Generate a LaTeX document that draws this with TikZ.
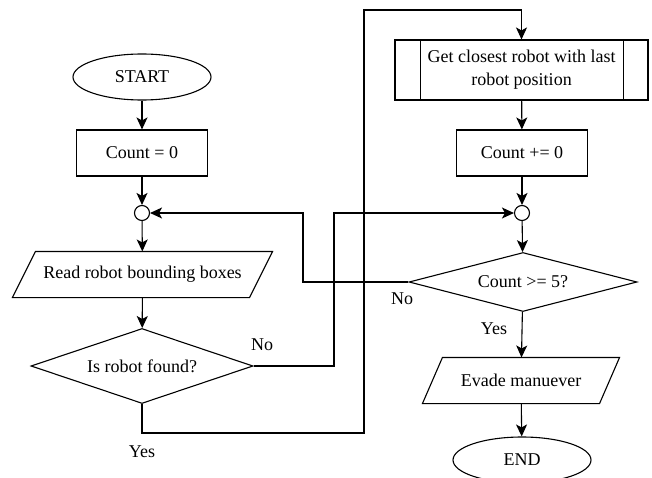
\documentclass[tikz,border=0pt]{standalone}
\usepackage{fontspec}
\setmainfont{Liberation Serif}
\usetikzlibrary{shapes.geometric,arrows.meta,calc}

\begin{document}
\begin{tikzpicture}[x=1pt,y=-1pt,
  line width=1.1pt,
  every node/.style={font=\fontsize{18}{23}\selectfont, inner sep=0pt},
  term/.style={ellipse, draw, minimum width=138pt, minimum height=46pt},
  proc/.style={rectangle, draw, minimum width=131pt, minimum height=46pt},
  sub/.style={rectangle, draw, minimum width=253pt, minimum height=60pt, align=center},
  io/.style={rectangle, minimum width=#1, minimum height=45pt},
  dec/.style={diamond, draw, aspect=4, minimum width=#1},
  junc/.style={circle, draw, minimum size=15pt},
  lbl/.style={anchor=base},
  arr/.style={-{Stealth[length=12pt,width=11pt,inset=3pt]}}
]
\useasboundingbox[fill=white] (0,0) rectangle (652,478);

% left column
\node[term] (start) at (142,77) {START};
\node[proc] (c0) at (142,153) {Count = 0};
\node[junc] (j1) at (142,213) {};
\node[io=236pt] (read) at (142.5,274.5) {Read robot bounding boxes};
\node[dec=222pt, minimum height=75pt] (found) at (142,366) {Is robot found?};

% right column
\node[sub] (get) at (521.5,70) {Get closest robot with last\\robot position};
\node[proc] (cpl) at (522,153) {Count += 0};
\node[junc] (j2) at (522,213) {};
\node[dec=228pt, minimum height=59pt] (c5) at (523,282) {Count >= 5?};
\node[io=176pt] (evade) at (521,380.5) {Evade manuever};
\node[term] (end) at (522,460) {END};

% parallelogram outlines
\foreach \n/\s in {read/11.5pt, evade/10pt}{
  \draw ([xshift=\s]\n.north west) -- ([xshift=\s]\n.north east)
     -- ([xshift=-\s]\n.south east) -- ([xshift=-\s]\n.south west) -- cycle;
}
% side bars of the subroutine box
\draw ([xshift=26pt]get.north west) -- ([xshift=26pt]get.south west);
\draw ([xshift=-25pt]get.north east) -- ([xshift=-25pt]get.south east);

% bend points of the long connectors
\coordinate (nobend) at (334,366);
\coordinate (yesbend) at (364,433);
\coordinate (yestop) at (364,10);
\coordinate (loopbend) at (303,213);

% straight flow
\draw[arr] (start) -- (c0);
\draw[arr] (c0) -- (j1);
\draw[arr] (j1) -- (read);
\draw[arr] (read) -- (found);
\draw[arr] (get) -- (cpl);
\draw[arr] (cpl) -- (j2);
\draw[arr] (j2) -- (c5);
\draw[arr] (c5) -- (evade);
\draw[arr] (evade) -- (end);

% branches
\draw[arr] (found.east) -- (nobend) |- (j2.west);
\draw[arr] (found.south) |- (yesbend) -- (yestop) -| (get.north);
\draw[arr] (c5.west) -| (loopbend) -- (j1.east);

% branch labels
\node[lbl] at (262,350) {No};
\node[lbl] at (142,457) {Yes};
\node[lbl] at (402,304) {No};
\node[lbl] at (494,334) {Yes};
\end{tikzpicture}
\end{document}
